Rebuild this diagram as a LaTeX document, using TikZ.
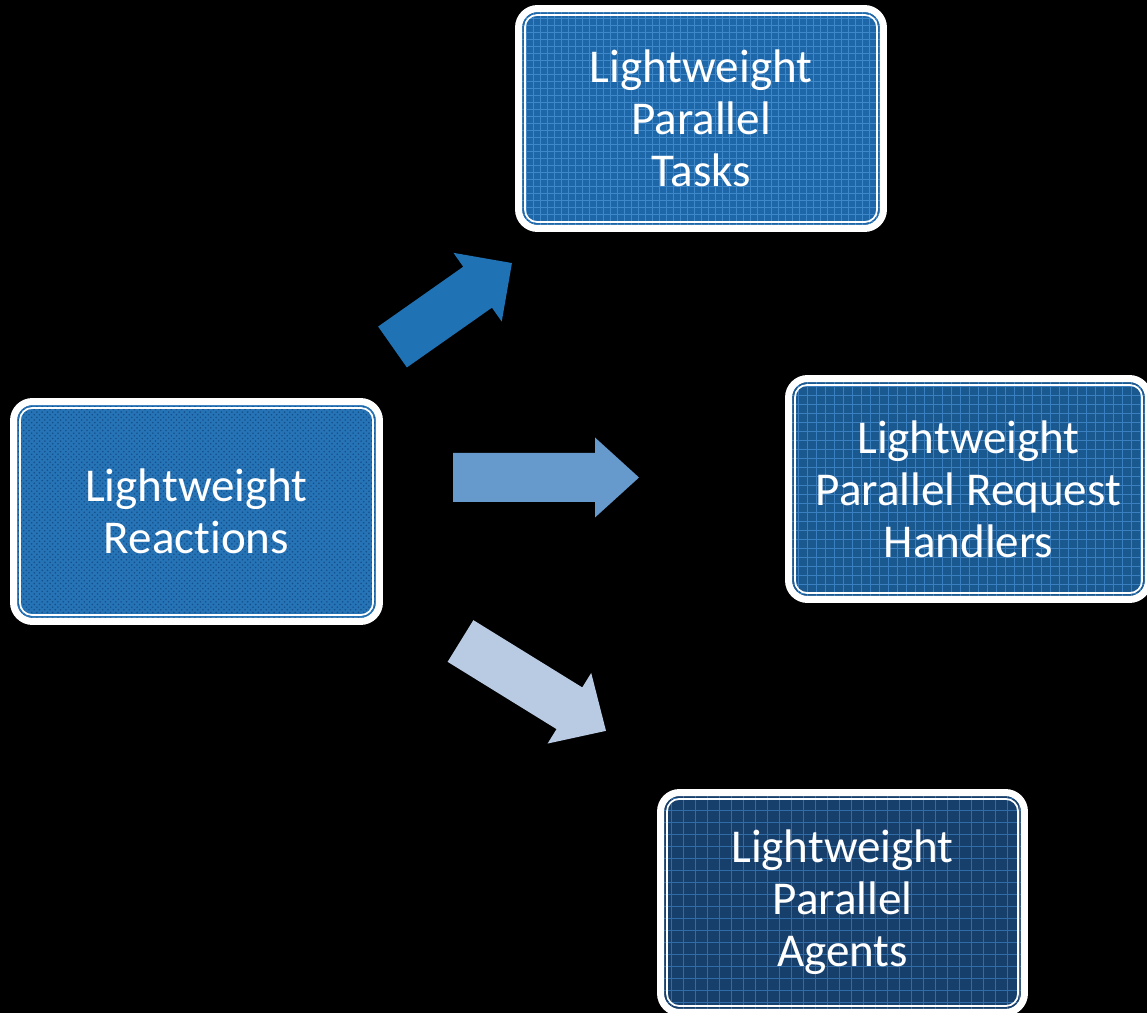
\documentclass[tikz,border=0pt]{standalone}
\usepackage{fontspec}
\setmainfont{Carlito}[Ligatures=NoCommon]
\usetikzlibrary{patterns}

\definecolor{bgblack}{RGB}{0,0,0}
\definecolor{reactfill}{RGB}{38,115,182}
\definecolor{reactdots}{RGB}{20,80,140}
\definecolor{tasksfill}{RGB}{29,102,168}
\definecolor{tasksgrid}{RGB}{62,135,200}
\definecolor{handfill}{RGB}{26,88,144}
\definecolor{handgrid}{RGB}{58,128,192}
\definecolor{agentfill}{RGB}{23,63,107}
\definecolor{agentgrid}{RGB}{47,108,168}
\definecolor{arrowdark}{RGB}{31,114,180}
\definecolor{arrowmid}{RGB}{102,153,204}
\definecolor{arrowlight}{RGB}{185,203,227}

\tikzset{
  lwbox/.style={
    draw=white, line width=0.14cm, rounded corners=0.38cm,
    inner sep=0pt, text=white, align=center,
    font=\fontsize{26.8pt}{29.6pt}\selectfont
  },
  innerline/.style={draw=white, line width=0.035cm, rounded corners=0.24cm},
  blockarrow/.style={draw=none}
}

% framed box: outer white rim, then a thin white inner line
\newcommand{\lwinner}[1]{%
  \draw[innerline] ([xshift=0.2cm,yshift=-0.2cm]#1.north west)
    rectangle ([xshift=-0.2cm,yshift=0.2cm]#1.south east);}

% block arrow along local x: tail at origin, length L, shaft s, head H, head length h
\newcommand{\blockarrowpath}[4]{%
  (0,-#2/2) -- (#1-#4,-#2/2) -- (#1-#4,-#3/2) -- (#1,0) --
  (#1-#4,#3/2) -- (#1-#4,#2/2) -- (0,#2/2) -- cycle}

\begin{document}
\begin{tikzpicture}[x=0.02cm, y=-0.02cm]
  \clip (0,0) rectangle (1147,1013);
  \fill[bgblack] (0,0) rectangle (1147,1013);

  % boxes
  \node[lwbox, fill=reactfill, minimum width=7.32cm, minimum height=4.4cm,
        path picture={\fill[pattern=crosshatch dots, pattern color=reactdots]
          (path picture bounding box.south west) rectangle (path picture bounding box.north east);}]
    (react) at (196.5,511.5) {Lightweight\\Reactions};
  \lwinner{react}

  \node[lwbox, fill=tasksfill, minimum width=7.3cm, minimum height=4.4cm,
        path picture={\draw[tasksgrid, line width=0.012cm, step=0.14cm]
          (path picture bounding box.south west) grid (path picture bounding box.north east);}]
    (tasks) at (701,118.5) {Lightweight\\Parallel\\Tasks};
  \lwinner{tasks}

  \node[lwbox, fill=handfill, minimum width=7.2cm, minimum height=4.42cm,
        path picture={\draw[handgrid, line width=0.015cm, step=0.18cm]
          (path picture bounding box.south west) grid (path picture bounding box.north east);}]
    (handlers) at (968.5,489) {Lightweight\\Parallel Request\\Handlers};
  \lwinner{handlers}

  \node[lwbox, fill=agentfill, minimum width=7.28cm, minimum height=4.4cm,
        path picture={\draw[agentgrid, line width=0.018cm, step=0.24cm]
          (path picture bounding box.south west) grid (path picture bounding box.north east);}]
    (agents) at (842.5,902.5) {Lightweight\\Parallel\\Agents};
  \lwinner{agents}

  % block arrows from the reactions box towards the three targets
  \coordinate (tailA) at (392.5,347);
  \coordinate (tailB) at (453,477.5);
  \coordinate (tailC) at (460.5,641);

  \begin{scope}[shift={(tailA)}, rotate=35.1]
    \fill[arrowdark] \blockarrowpath{146}{50}{84}{42};
  \end{scope}
  \begin{scope}[shift={(tailB)}]
    \fill[arrowmid] \blockarrowpath{186}{49}{80}{44};
  \end{scope}
  \begin{scope}[shift={(tailC)}, rotate=-31.7]
    \fill[arrowlight] \blockarrowpath{171}{49}{83}{43};
  \end{scope}
\end{tikzpicture}
\end{document}
